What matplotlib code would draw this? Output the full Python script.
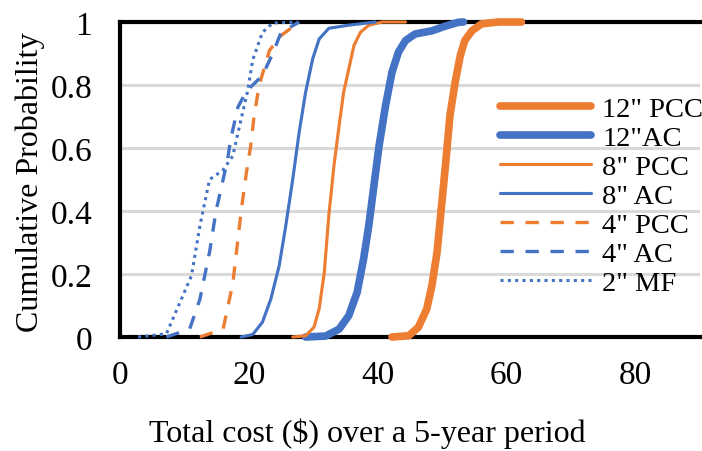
import matplotlib.pyplot as plt

mf2_x = [2.8, 7.2, 11.1, 12.4, 13.9, 16.0, 17.5, 19.0, 19.8, 20.6, 22.1, 23.7, 27.5]
mf2_p = [0.0, 0.01, 0.195, 0.353, 0.50, 0.53, 0.575, 0.71, 0.78, 0.88, 0.967, 0.997, 1.0]

ac4_x = [7.2, 10.8, 12.4, 13.9, 14.9, 16.0, 16.7, 17.2, 18.3, 19.6, 22.1, 23.7, 25.0, 27.8]
ac4_p = [0.0, 0.025, 0.12, 0.27, 0.40, 0.50, 0.565, 0.63, 0.73, 0.78, 0.83, 0.90, 0.967, 1.0]

pcc4_x = [12.4, 16.0, 17.5, 18.3, 18.8, 19.6, 20.3, 20.8, 21.6, 23.2, 25.0, 27.8]
pcc4_p = [0.0, 0.025, 0.17, 0.31, 0.40, 0.52, 0.61, 0.70, 0.80, 0.91, 0.957, 1.0]

ac8_x = [18.8, 20.6, 22.1, 23.4, 24.7, 25.7, 26.8, 27.8, 28.8, 29.9, 30.9, 32.4, 35.5, 39.6]
ac8_p = [0.0, 0.008, 0.047, 0.12, 0.226, 0.35, 0.50, 0.65, 0.777, 0.883, 0.946, 0.98, 0.99, 1.0]

pcc8_x = [26.8, 28.8, 30.1, 30.9, 31.7, 32.4, 33.2, 34.0, 34.7, 35.5, 36.3, 37.3, 38.6, 40.7, 44.3]
pcc8_p = [0.0, 0.004, 0.031, 0.089, 0.205, 0.385, 0.544, 0.671, 0.777, 0.851, 0.925, 0.967, 0.99, 1.0, 1.0]

ac12_x = [28.8, 31.9, 34.0, 35.5, 36.8, 37.8, 38.6, 39.4, 40.2, 41.2, 42.2, 43.2, 44.3, 45.8, 48.4, 50.5, 52.5, 53.3]
ac12_p = [0.0, 0.003, 0.025, 0.068, 0.142, 0.248, 0.353, 0.48, 0.607, 0.734, 0.84, 0.904, 0.941, 0.962, 0.972, 0.987, 0.999, 1.0]

pcc12_x = [42.2, 44.8, 46.3, 47.6, 48.4, 49.2, 49.7, 50.5, 51.2, 52.0, 52.8, 53.5, 54.6, 56.1, 58.7, 62.3]
pcc12_p = [0.0, 0.004, 0.031, 0.089, 0.163, 0.269, 0.375, 0.544, 0.703, 0.808, 0.893, 0.941, 0.972, 0.994, 1.0, 1.0]

orange = '#ED7D31'
blue = '#4472C4'

plt.rcParams['font.family'] = 'Liberation Serif'

fig = plt.figure(figsize=(7.02, 4.52), dpi=100)
ax = fig.add_axes([120/702, 1 - 338/452, 580/702, 315/452])

common = dict(clip_on=False, zorder=5, solid_joinstyle='round', solid_capstyle='round')
ax.plot(pcc12_x, pcc12_p, color=orange, lw=5.5, label='12" PCC', **common)
ax.plot(ac12_x, ac12_p, color=blue, lw=5.5, label='12"AC', **common)
ax.plot(pcc8_x, pcc8_p, color=orange, lw=2.25, label='8" PCC', **common)
ax.plot(ac8_x, ac8_p, color=blue, lw=2.25, label='8" AC', **common)
ax.plot(pcc4_x, pcc4_p, color=orange, lw=2.4, dashes=(4, 3.5), label='4" PCC', **common)
ax.plot(ac4_x, ac4_p, color=blue, lw=2.4, dashes=(4, 3.5), label='4" AC', **common)
ax.plot(mf2_x, mf2_p, color=blue, lw=2.2, dashes=(1, 1.4), label='2" MF', **common)

ax.set_xlim(0, 90)
ax.set_ylim(0, 1)
ax.set_xticks([0, 20, 40, 60, 80])
ax.set_yticks([0, 0.2, 0.4, 0.6, 0.8, 1])
ax.set_yticklabels(['0', '0.2', '0.4', '0.6', '0.8', '1'])
ax.tick_params(length=0, labelsize=24)
ax.tick_params(axis='y', pad=20)
ax.tick_params(axis='x', pad=16)

ax.grid(axis='y', color='#D9D9D9', lw=2.2)
ax.set_axisbelow(True)
for s in ['left', 'top', 'bottom']:
    ax.spines[s].set_linewidth(3)
    ax.spines[s].set_color('black')
    ax.spines[s].set_zorder(2)
ax.spines['right'].set_visible(False)

ax.set_xlabel('Total cost ($) over a 5-year period', fontsize=23, va='baseline')
ax.xaxis.set_label_coords(0.427, -0.330)
ax.set_ylabel('Cumulative Probability', fontsize=23, va='center')
ax.yaxis.set_label_coords(-0.155, 0.495)

ax.legend(loc='upper left', bbox_to_anchor=(380/580, 1 - 74/315), frameon=False,
          fontsize=20.5, handlelength=3.2, handletextpad=0.4, labelspacing=0.11,
          borderaxespad=0, borderpad=0)

fig.savefig('out.png', dpi=100)
